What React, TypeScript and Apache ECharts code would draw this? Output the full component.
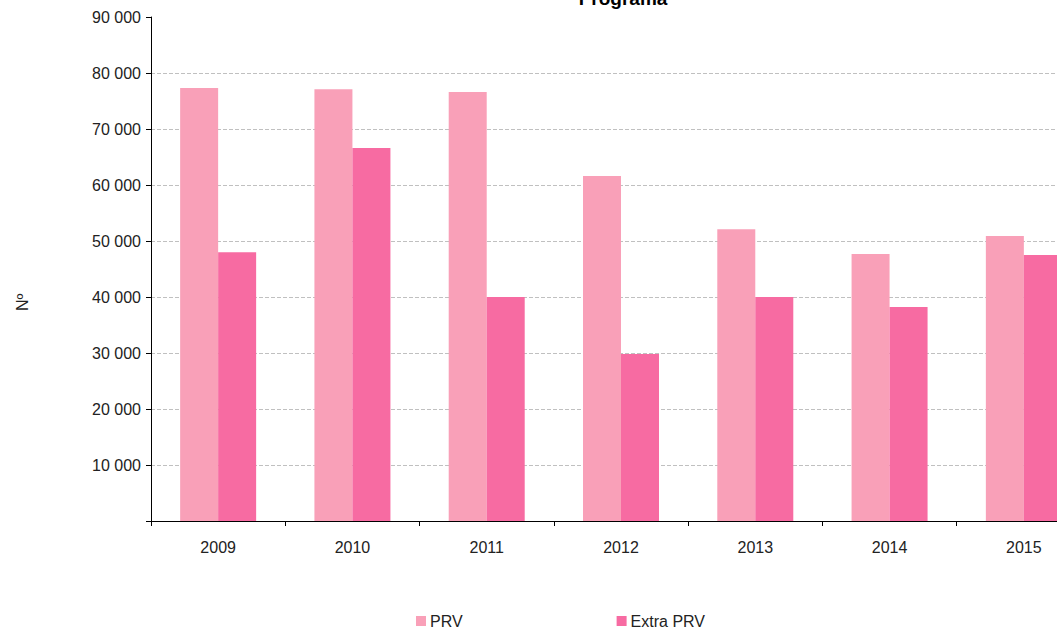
import React, { useEffect, useRef } from "react";
import * as echarts from "echarts";

const categories = ["2009", "2010", "2011", "2012", "2013", "2014", "2015"];
const prv = [77300, 77100, 76600, 61600, 52100, 47700, 50900];
const extraPrv = [48000, 66600, 40000, 29800, 40000, 38200, 47500];
const yTicks = { min: 0, max: 90000, interval: 10000 };

const fmt = (v: number) =>
  v === 0 ? "" : String(v).replace(/\B(?=(\d{3})+(?!\d))/g, " ");

export default function App() {
  const ref = useRef<HTMLDivElement>(null);
  useEffect(() => {
    document.body.style.margin = "0";
    const chart = echarts.init(ref.current!, null, { renderer: "svg" });
    const font = "Liberation Sans, Arial, sans-serif";
    chart.setOption({
      animation: false,
      backgroundColor: "#ffffff",
      textStyle: { fontFamily: font },
      title: {
        text: "Programa",
        left: 623,
        textAlign: "center",
        top: -11,
        padding: 0,
        textStyle: { fontSize: 19, fontWeight: "bold", color: "#000", fontFamily: font },
      },
      grid: { left: 151, top: 17, height: 504, width: 940, outerBoundsMode: "none", containLabel: false },
      legend: {
        bottom: 3,
        left: 416,
        padding: 0,
        itemWidth: 10,
        itemHeight: 10,
        itemGap: 154,
        icon: "rect",
        textStyle: { fontSize: 16, color: "#222", fontFamily: font, padding: [0, 0, 0, -1] },
        data: ["PRV", "Extra PRV"],
      },
      xAxis: {
        type: "category",
        data: categories,
        axisLine: { lineStyle: { color: "#000", width: 1 } },
        axisTick: { show: true, length: 5, lineStyle: { color: "#000" } },
        axisLabel: { fontSize: 16, color: "#222", margin: 18, fontFamily: font },
      },
      yAxis: {
        type: "value",
        min: yTicks.min,
        max: yTicks.max,
        interval: yTicks.interval,
        axisLine: { show: true, lineStyle: { color: "#000", width: 1 } },
        axisTick: { show: true, length: 5, lineStyle: { color: "#000" } },
        axisLabel: { fontSize: 16, color: "#222", margin: 10, formatter: fmt, fontFamily: font },
        splitLine: { show: true, lineStyle: { color: "#c0c0c0", type: [4, 2], width: 1 } },
      },
      series: [
        {
          name: "PRV",
          type: "bar",
          data: prv,
          barWidth: 38,
          barGap: "0%",
          itemStyle: { color: "#F9A0B8" },
        },
        {
          name: "Extra PRV",
          type: "bar",
          data: extraPrv,
          barWidth: 38,
          barGap: "0%",
          itemStyle: { color: "#F76BA2" },
        },
      ],
    });
    const topPt = chart.convertToPixel({ gridIndex: 0 }, [0, yTicks.max]) as number[];
    chart.setOption({
      graphic: [
        {
          type: "line",
          shape: { x1: 152, y1: topPt[1], x2: 1057, y2: topPt[1] },
          style: { stroke: "#ffffff", lineWidth: 2 },
          z: 5,
        },
        {
          type: "text",
          x: 14,
          y: 311,
          rotation: Math.PI / 2,
          style: { text: "Nº", fontSize: 16, fill: "#222", font: "16px " + font },
        },
      ],
    });
    return () => chart.dispose();
  }, []);
  return (
    <div
      ref={ref}
      style={{ position: "absolute", left: 0, top: 0, width: 1057, height: 632 }}
    />
  );
}
